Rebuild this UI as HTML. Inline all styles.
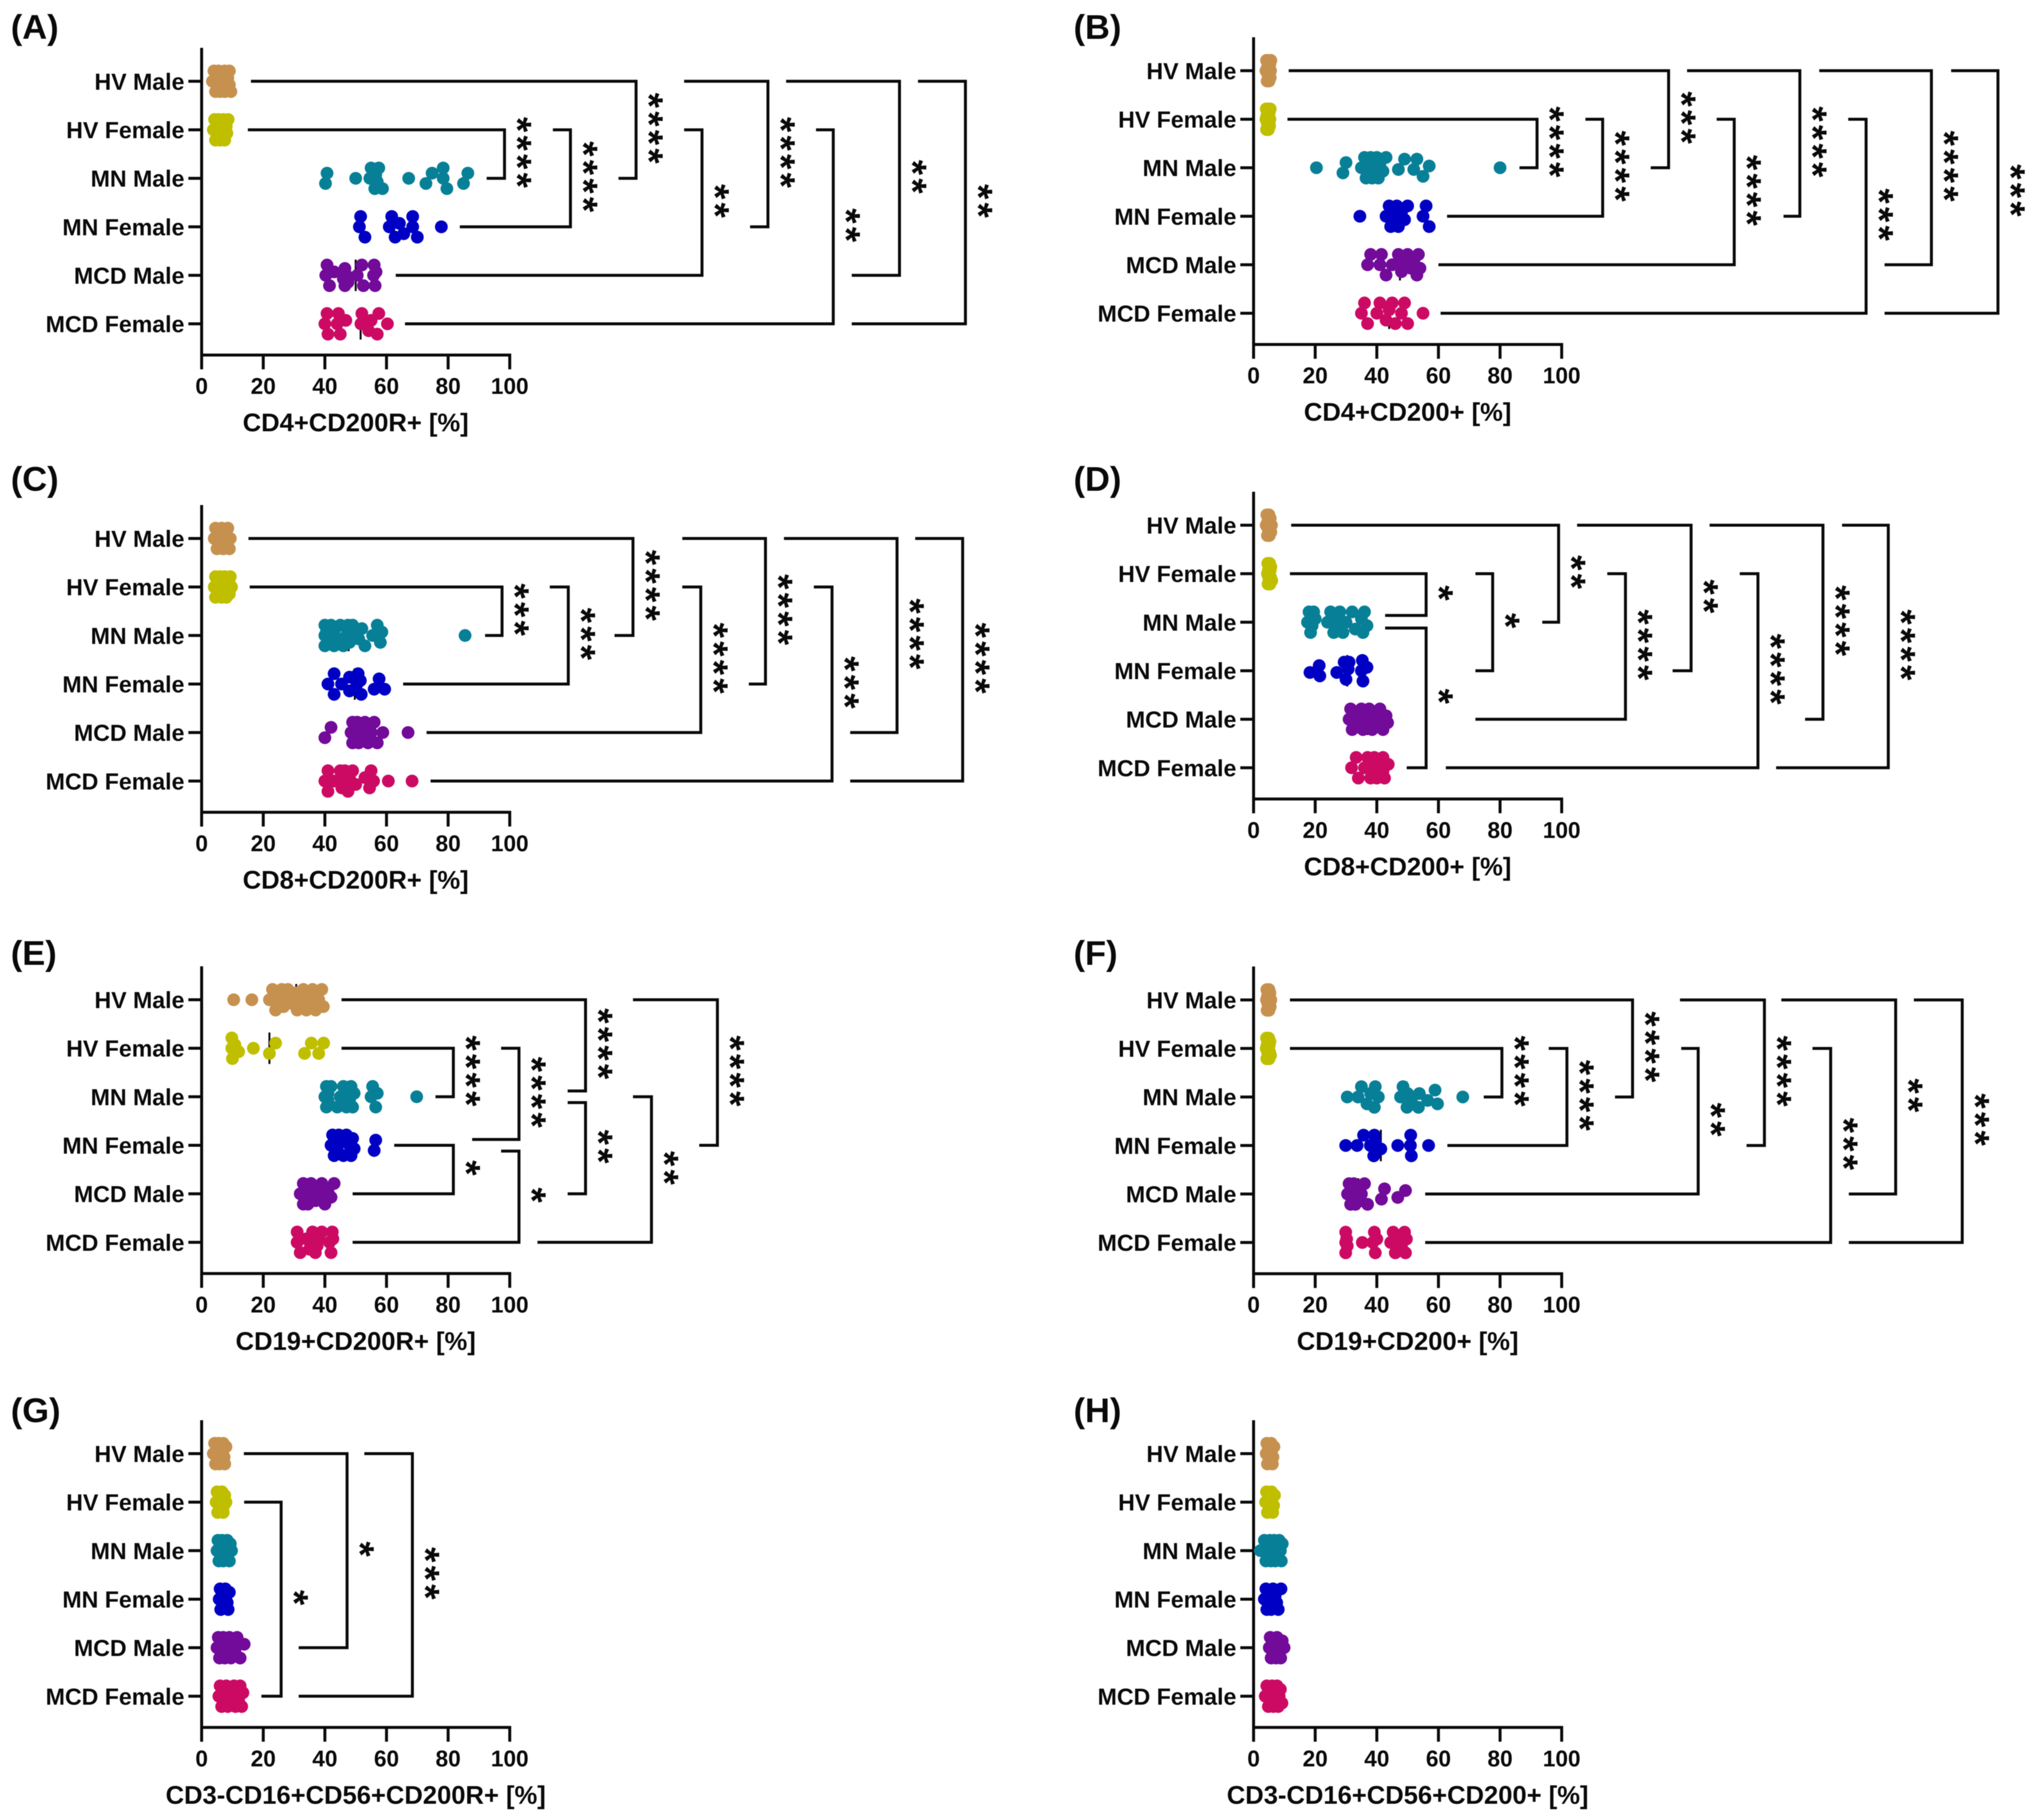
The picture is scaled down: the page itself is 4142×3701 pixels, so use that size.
<!DOCTYPE html>
<html lang="en">
<head>
<meta charset="utf-8">
<title>CD200 and CD200R expression panels</title>
<style>
html,body{margin:0;padding:0;background:#fff;}
svg{display:block;filter:blur(0.9px);}
text{font-family:"Liberation Sans",Arial,sans-serif;font-weight:700;fill:#0a0a0a;}
</style>
</head>
<body>
<svg id="figure" xmlns="http://www.w3.org/2000/svg" width="4142" height="3701" viewBox="0 0 4142 3701"></svg>
<script>
const categories = ['HV Male','HV Female','MN Male','MN Female','MCD Male','MCD Female'];
const tickLabels = [0,20,40,60,80,100];
const seriesColors = ['#C6914F','#BFBF00','#078097','#0000C4','#720A9A','#CC0A64'];

const panelLabels = ['(A)','(B)','(C)','(D)','(E)','(F)','(G)','(H)'];
const axisTitles = ['CD4+CD200R+ [%]','CD4+CD200+ [%]','CD8+CD200R+ [%]','CD8+CD200+ [%]','CD19+CD200R+ [%]','CD19+CD200+ [%]','CD3-CD16+CD56+CD200R+ [%]','CD3-CD16+CD56+CD200+ [%]'];

const valuesA = [
 [3.5,4,4.5,5,5,5.5,6,6,6.5,7,7,7.5,7.5,8,8,8.5,8.5,9,9,9.5],
 [3.8,4.2,4.5,5,5,5.5,5.5,6,6,6.5,6.5,7,7,7.5,8,8.2,8.6],
 [40.2,40.7,50,54.6,55,56.2,56.5,57,57.5,58.7,67.2,72.8,74.8,78.4,78.4,79.6,85,86.4],
 [51.2,51.6,53,60.9,61.7,62.8,64.2,65.6,68.5,68.5,70,77.8],
 [40.3,40.7,41.5,43,46,46.5,46.5,47,47.5,50.5,52,52.5,55.8,56,56.3,56.6],
 [40,40.7,41,44,44.4,45,46.8,51.7,52,54.2,55,57,57.5,60.3]
];
const mediansA = [7.5,7.4,58,62.5,50,51.6];
const bracketsA = [
 {a:0,b:2,xa:16,xb:135.3,xv:141,n:4},{a:1,b:2,xa:15,xb:92.5,xv:98.3,n:4},{a:1,b:3,xa:114,xb:83.8,xv:119.7,n:4},
 {a:1,b:4,xa:156.6,xb:63,xv:162.4,n:2},{a:0,b:3,xa:156.6,xb:178,xv:183.8,n:4},{a:1,b:5,xa:199.4,xb:66,xv:205,n:2},
 {a:0,b:4,xa:189.7,xb:211,xv:226.5,n:2},{a:0,b:5,xa:232.5,xb:211,xv:247.9,n:2}
];

const valuesB = [
 [4,4.2,4.4,4.5,4.6,4.7,4.8,4.9,5,5,5.1,5.2,5.3,5.4,5.5,5.6],
 [4,4.1,4.2,4.3,4.4,4.5,4.5,4.6,4.7,4.8,4.9,5,5.1,5.2,5.3,5.4],
 [20.4,29,30,35,36,36.5,37,37.5,38,38.5,39,39.5,40,40.5,41,42,43,47,49,52,53,55,57,80],
 [34.5,43,44,44.5,45,46,46.5,47,48,49,50,55,56,57],
 [37,38,41,41.5,43,45,47,48,48.5,50,51,52,53,53.5,54],
 [35,36,37,40,41,43,44,45,46,48,49,50,55]
];
const mediansB = [5,4.8,40.5,46,47.5,44];
const bracketsB = [
 {a:0,b:2,xa:11.4,xb:128.9,xv:134.7,n:3},{a:1,b:2,xa:11,xb:86.3,xv:92,n:4},{a:1,b:3,xa:107.7,xb:62.8,xv:113.3,n:4},
 {a:1,b:4,xa:150.3,xb:60,xv:156,n:4},{a:0,b:3,xa:140.7,xb:172,xv:177.3,n:4},{a:1,b:5,xa:193,xb:60.7,xv:198.8,n:3},
 {a:0,b:4,xa:183.6,xb:204.8,xv:220,n:4},{a:0,b:5,xa:226.4,xb:204.8,xv:241.6,n:3}
];

const valuesC = [
 [4.1,4.5,5,5,5.5,5.5,6,6,6.5,6.5,7,7,7.5,7.5,8,8,8.5,8.5,9,9.3],
 [4.1,4.5,4.5,5,5,5.5,6,6.5,7,7,7.5,8,8,8.5,8.5,9,9,9.3,9.7],
 [40,40,40,40.5,41,42,43,43,44,45,46,47,47.5,48,48.5,49,51,52,53,55.5,57,58,58.5,85.5],
 [41,43,43,45.4,48,48,50.4,50.8,51.8,51.5,56,57.6,59.4],
 [40,42,48.5,49,49,49.5,50,50.5,51,51.5,52,53,54,55,56,57,58.8,67],
 [40,41,41,43,45,45.5,46,46.5,47,47.5,48,49,50,53,54.5,55,55.8,60.6,68.3]
];
const mediansC = [7.5,7.5,47.7,49.7,51,47];
const bracketsC = [
 {a:0,b:2,xa:15.2,xb:134,xv:140,n:4},{a:1,b:2,xa:15.6,xb:92,xv:97.5,n:3},{a:1,b:3,xa:113,xb:65.4,xv:119,n:3},
 {a:1,b:4,xa:156,xb:73,xv:162,n:4},{a:0,b:3,xa:156,xb:177.6,xv:183,n:4},{a:1,b:5,xa:198.7,xb:74.3,xv:204.6,n:3},
 {a:0,b:4,xa:189,xb:210.5,xv:225.7,n:4},{a:0,b:5,xa:231.6,xb:210.5,xv:247,n:4}
];

const valuesD = [
 [4.1,4.3,4.5,4.6,4.7,4.8,4.9,5,5,5.1,5.2,5.3,5.4,5.6,5.8],
 [4.5,4.6,4.7,4.8,4.9,5,5,5.1,5.2,5.3,5.4,5.5,5.6,5.9],
 [17.5,18,18.5,18.5,19,19.5,20,24,25,26,26.5,27,28,29,30,32,33,35,35.5,36,36.8],
 [18.3,21.3,21.5,27,29.4,30,30.7,31,35,35.3,35.5,36.8],
 [31,31.5,32,33,34,35,35.5,36,37,37.5,38.5,39.5,40.5,41,42,43,43.5],
 [31.8,33.3,34,36,37,38,38.5,39,39.2,40,41,42,42,42.5,43.7]
];
const mediansD = [5,5.1,27,30.4,37,39.2];
const bracketsD = [
 {a:1,b:2,xa:11.8,xb:42.7,xv:56,n:1,bOff:-0.14},{a:2,b:5,xa:42.7,xb:49.7,xv:56,n:1,aOff:0.12},{a:1,b:3,xa:72,xb:72,xv:77.6,n:1},
 {a:0,b:2,xa:12.2,xb:93.7,xv:99,n:2},{a:1,b:4,xa:114.8,xb:72,xv:120.7,n:4},{a:0,b:3,xa:105,xb:136,xv:142,n:2},
 {a:1,b:5,xa:157.8,xb:62.4,xv:163.7,n:4},{a:0,b:4,xa:148,xb:179,xv:184.8,n:4},{a:0,b:5,xa:191,xb:169.6,xv:206,n:4}
];

const valuesE = [
 [10.4,16.3,22,23,24,25,26,26.6,27.4,28,29,30.7,31,32,33,34,34.7,35,36,37,38,39,39.5],
 [9.8,9.8,10,10.8,12,16.8,22,24,33.4,35.6,38,39.6],
 [40,40.5,40.5,41,41,42,44,45,46,47,47.5,48,48.5,49,49.5,55,55.5,56.5,57,69.8],
 [42,42.5,43,43,44,44.5,45,46,47,48,48.5,49,49.5,56,56.5],
 [32,33,33,33.5,34,34,34.5,35,35.5,37,38,39,39,40,41,42,43],
 [31,31,32,34,35,36,36.4,36.9,37,37.5,38,39,41.5,42,42.4,42.6]
];
const mediansE = [30.7,22,47.3,45.5,35,36.9];
const bracketsE = [
 {a:0,b:2,xa:45.4,xb:118.8,xv:124.6,n:4,bOff:-0.12},{a:1,b:2,xa:45.4,xb:75.9,xv:81.7,n:4},{a:1,b:3,xa:97.2,xb:87.8,xv:103,n:4,bOff:-0.12},
 {a:3,b:4,xa:62.5,xb:49,xv:81.7,n:1},{a:3,b:5,xa:97.2,xb:49,xv:103,n:1,aOff:0.12},{a:2,b:4,xa:118.8,xb:118.8,xv:124.6,n:2,aOff:0.12},
 {a:0,b:3,xa:140,xb:161.5,xv:167.4,n:4},{a:2,b:5,xa:140,xb:109,xv:146,n:2}
];

const valuesF = [
 [4.2,4.3,4.4,4.5,4.6,4.7,4.8,4.9,5,5,5.1,5.2,5.3,5.4,5.6],
 [4.1,4.2,4.3,4.4,4.5,4.6,4.7,4.8,4.9,5,5.1,5.2,5.3,5.5],
 [30.4,33.9,35,36.8,38,39.2,39.5,40.5,47.7,48.5,49.8,50,51.2,53.8,53.5,56.5,58.9,59.7,67.9],
 [29.9,33.6,35.7,37.9,39,39.2,39.5,41.3,46.8,50.9,51,51.2,56.8],
 [30.5,31,31.5,32,32,32.5,33,33.5,34,34.5,35,36,37,41.5,42.5,46.8,49.3],
 [29.9,29.9,29.9,30.2,30.4,35.3,38.7,39.2,39.5,40,44.5,45.3,46,47,48,49,49.3,49.6]
];
const mediansF = [5,4.8,49.6,41.3,34,39.2];
const bracketsF = [
 {a:1,b:2,xa:11.8,xb:74.7,xv:80.6,n:4},{a:1,b:3,xa:95.8,xb:62.9,xv:101.7,n:4},{a:0,b:2,xa:11.8,xb:117.3,xv:123,n:4},
 {a:1,b:4,xa:138.8,xb:55.7,xv:144.3,n:2},{a:0,b:3,xa:138.4,xb:160,xv:165.8,n:4},{a:1,b:5,xa:181.4,xb:55.7,xv:187.3,n:3},
 {a:0,b:4,xa:171.3,xb:193.2,xv:208.4,n:2},{a:0,b:5,xa:214.3,xb:193.2,xv:230,n:3}
];

const valuesG = [
 [3.8,4.2,4.5,5,5.2,5.5,5.8,6,6.3,6.5,6.8,7,7.3,7.5,7.9],
 [4.7,5,5.2,5.5,5.8,6,6.2,6.4,6.6,6.8,7,7.2,7.5,7.9],
 [5,5.3,5.6,6,6.3,6.6,7,7.3,7.5,7.8,8,8.3,8.6,9,9.3,9.7],
 [5.7,6,6.2,6.5,6.7,7,7.2,7.5,7.7,8,8.3,8.6,9],
 [5,5.4,5.8,6.2,6.6,7,7.5,8,8.6,9,9.5,10,10.8,11.5,12.5,13.8],
 [5.6,6,6.5,7,7.5,8,8.5,9.5,10,10.5,11,11.5,12,12.5,13,13.4]
];
const mediansG = [6.3,6.4,7.3,7,8.6,11];
const bracketsG = [
 {a:1,b:5,xa:13.8,xb:19.4,xv:25.8,n:1},{a:0,b:4,xa:13.7,xb:31.5,xv:47.2,n:1},{a:0,b:5,xa:52.8,xb:31.5,xv:68.4,n:3}
];

const valuesH = [
 [4.1,4.3,4.5,4.7,4.9,5.1,5.3,5.5,5.7,5.9,6.1,6.3,6.6],
 [3.9,4.2,4.5,4.8,5,5.2,5.4,5.6,5.8,6,6.2,6.5,6.8],
 [2.2,3.5,4,4.5,5,5.3,5.6,6,6.2,6.4,6.7,7,7.3,7.6,8,8.3,8.7,9,9.3],
 [3.5,4,4.3,4.6,5,5.3,5.7,6,6.3,6.7,7,7.5,8,8.9],
 [5.1,5.4,5.7,6,6.3,6.6,7,7.3,7.6,8,8.4,8.8,9.3,9.9],
 [3.8,4.3,4.8,5.2,5.6,6,6.4,7,7.3,7.6,8,8.3,8.7,9.2]
];
const mediansH = [5.5,5.4,6.4,5.7,7,7];
const bracketsH = [];

const panelValues = [valuesA,valuesB,valuesC,valuesD,valuesE,valuesF,valuesG,valuesH];
const panelMedians = [mediansA,mediansB,mediansC,mediansD,mediansE,mediansF,mediansG,mediansH];
const panelBrackets = [bracketsA,bracketsB,bracketsC,bracketsD,bracketsE,bracketsF,bracketsG,bracketsH];

const SVGNS = 'http://www.w3.org/2000/svg';
const root = document.getElementById('figure');
const LEFT_X = 410, RIGHT_X = 2549, UNIT = 6.265, ROW_STEP = 98.65;
const FIRST_ROW = [165.3,143.8,1095,1068,2033,2033.4,2956,2956];
const LABEL_BASE = [79,79,998,998,1962,1962,2892,2892];
const STROKE = 6, DOT_R = 13;

function mk(parent, tag, attrs, txt){
  const el = document.createElementNS(SVGNS, tag);
  for (const k in attrs) el.setAttribute(k, attrs[k]);
  if (txt !== undefined) el.textContent = txt;
  parent.appendChild(el);
  return el;
}

function swarmOffsets(xs){
  const D = 21, cands = [0,-7,7,-14,14,-21,21];
  const placed = [];
  xs.forEach(function(x){
    let best = 0, bestD = -1;
    for (const c of cands){
      let m = Infinity;
      for (const p of placed){ m = Math.min(m, Math.hypot(p.x-x, p.y-c)); }
      if (m >= D){ best = c; bestD = m; break; }
      if (m > bestD){ bestD = m; best = c; }
    }
    placed.push({x:x, y:best});
  });
  const idx = placed.map(function(_,i){return i;}).sort(function(a,b){return placed[a].x-placed[b].x;});
  let start = 0;
  for (let i = 1; i <= idx.length; i++){
    if (i === idx.length || placed[idx[i]].x - placed[idx[i-1]].x > D){
      const group = idx.slice(start,i).map(function(j){return placed[j];});
      const ys = group.map(function(p){return p.y;});
      const mid = (Math.max.apply(null,ys)+Math.min.apply(null,ys))/2;
      group.forEach(function(p){ p.y -= mid; });
      start = i;
    }
  }
  return placed.map(function(p){return p.y;});
}

panelLabels.forEach(function(label, p){
  const left = p % 2 === 0 ? LEFT_X : RIGHT_X;
  const xScale = function(v){ return left + v*UNIT; };
  const yScale = function(row){ return FIRST_ROW[p] + row*ROW_STEP; };
  const axisY = yScale(5) + 63.5;
  const g = mk(root, 'g', {});
  
  

  const pl = mk(g, 'text', {x: p%2===0 ? 22 : 2183, y: LABEL_BASE[p], 'font-size': 70}, label);
  
  

  const yAxis = mk(g, 'line', {x1:xScale(0), x2:xScale(0), y1:yScale(0)-68, y2:axisY+29, stroke:'#0a0a0a', 'stroke-width':STROKE});
  
  
  const xAxis = mk(g, 'line', {x1:xScale(0), x2:xScale(100)+STROKE/2, y1:axisY, y2:axisY, stroke:'#0a0a0a', 'stroke-width':STROKE});
  
  

  tickLabels.forEach(function(t){
    const tk = mk(g, 'line', {x1:xScale(t), x2:xScale(t), y1:axisY, y2:axisY+29, stroke:'#0a0a0a', 'stroke-width':STROKE});
    
    
    const tl = mk(g, 'text', {x:xScale(t), y:axisY+79, 'font-size':46, 'text-anchor':'middle'}, String(t));
    
    
  });
  const title = mk(g, 'text', {x:xScale(50), y:axisY+155, 'font-size':52, 'text-anchor':'middle'}, axisTitles[p]);
  
  

  categories.forEach(function(cat, r){
    const tk = mk(g, 'line', {x1:xScale(0)-27, x2:xScale(0), y1:yScale(r), y2:yScale(r), stroke:'#0a0a0a', 'stroke-width':STROKE});
    
    
    const tl = mk(g, 'text', {x:xScale(0)-35, y:yScale(r)+17, 'font-size':47, 'text-anchor':'end'}, cat);
    
    

    const med = mk(g, 'line', {x1:xScale(panelMedians[p][r]), x2:xScale(panelMedians[p][r]), y1:yScale(r)-32, y2:yScale(r)+32, stroke:'#0a0a0a', 'stroke-width':4});
    
    

    const vals = panelValues[p][r];
    const xs = vals.map(xScale);
    const off = swarmOffsets(xs);
    vals.forEach(function(v, i){
      const dot = mk(g, 'circle', {cx:xScale(v), cy:yScale(r)+off[i], r:DOT_R, fill:seriesColors[r]});
      
      
    });
  });

  panelBrackets[p].forEach(function(b){
    const ya = yScale(b.a + (b.aOff||0)), yb = yScale(b.b + (b.bOff||0));
    const pts = [xScale(b.xa),ya, xScale(b.xv),ya, xScale(b.xv),yb, xScale(b.xb),yb].join(' ');
    const br = mk(g, 'polyline', {points:pts, fill:'none', stroke:'#0a0a0a', 'stroke-width':STROKE, 'stroke-linejoin':'miter'});
    
    
    const fs = 80, cx = xScale(b.xv + 7.05), cy = (ya+yb)/2;
    const st = mk(g, 'text', {transform:'translate(' + (cx-0.56*fs) + ',' + cy + ') rotate(90)', 'font-size':fs, 'letter-spacing':6.6, 'text-anchor':'middle'}, '*'.repeat(b.n));
    
    
  });
});
</script>
</body>
</html>
